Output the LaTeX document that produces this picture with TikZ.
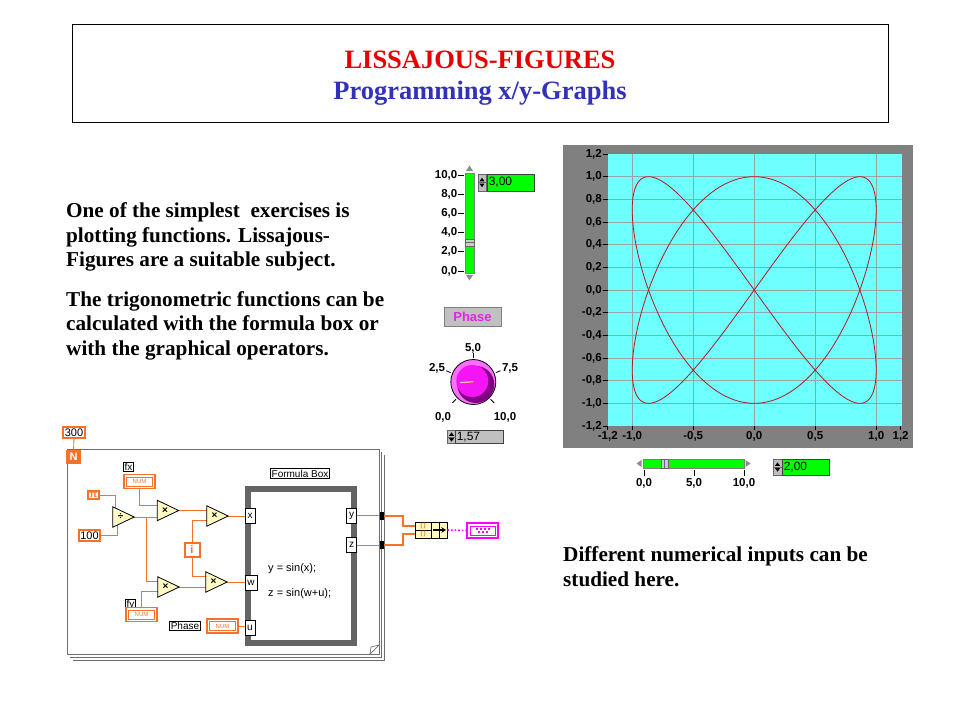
\documentclass[tikz,border=0pt]{standalone}
\usepackage{fontspec}
\setmainfont{Liberation Serif}
\setsansfont{Liberation Sans}
\usetikzlibrary{calc,arrows.meta}
\definecolor{titlered}{RGB}{230,0,0}
\definecolor{titleblue}{RGB}{50,50,185}
\definecolor{lvorange}{RGB}{245,115,40}
\definecolor{lvbeige}{RGB}{255,250,195}
\definecolor{plotcyan}{RGB}{110,255,255}
\definecolor{framegray}{RGB}{128,128,128}
\definecolor{gridgray}{RGB}{150,165,165}
\definecolor{curvered}{RGB}{175,25,35}
\definecolor{lvgreen}{RGB}{0,255,0}
\definecolor{lvmagenta}{RGB}{255,0,255}
\definecolor{knobring}{RGB}{255,110,255}
\definecolor{knobface}{RGB}{245,20,245}
\definecolor{knobdark}{RGB}{130,0,130}
\definecolor{btngray}{RGB}{192,192,192}
\definecolor{phasemag}{RGB}{225,40,225}
\definecolor{loopgray}{RGB}{110,110,110}
\definecolor{fbgray}{RGB}{100,100,100}
\begin{document}
\begin{tikzpicture}[x=1pt,y=-1pt,
  bodytext/.style={font=\fontsize{21.2}{24}\selectfont\bfseries, anchor=base west, inner sep=0},
  titletext/.style={font=\fontsize{26.5}{30}\selectfont\bfseries, anchor=base, inner sep=0},
  lvlab/.style={font=\sffamily\bfseries\fontsize{11.5}{12}\selectfont, inner sep=0},
  dispbox/.style={draw=black!75, line width=0.8pt, fill=lvgreen, minimum width=47pt, minimum height=17pt, inner sep=0},
  disptext/.style={font=\sffamily\fontsize{12}{12}\selectfont, anchor=west, inner sep=0},
  spinbox/.style={draw=black!60, line width=0.5pt, fill=black!25, minimum width=8pt, minimum height=17pt, inner sep=0},
  slidebar/.style={draw=black!50, line width=0.7pt, fill=lvgreen, inner sep=0},
  thumb/.style={draw=black!60, line width=0.6pt, fill=black!20, inner sep=0},
  panelarrow/.style={fill=black!45},
  wire/.style={lvorange, line width=0.9pt},
  bigwire/.style={lvorange, line width=2pt},
  constbox/.style={draw=lvorange, line width=1.8pt, fill=white, inner sep=1.5pt, font=\sffamily\fontsize{11}{11}\selectfont},
  numbox/.style={draw=lvorange, line width=1.6pt, fill=white, minimum width=31pt, minimum height=14pt, inner sep=0, font=\sffamily\fontsize{6}{6}\selectfont, text=lvorange,
    path picture={\draw[lvorange, line width=0.7pt] ([shift={(2.6pt,2.6pt)}]path picture bounding box.south west) rectangle ([shift={(-2.6pt,-2.6pt)}]path picture bounding box.north east);}},
  namelbl/.style={draw=black, line width=0.7pt, fill=white, inner sep=1pt, font=\sffamily\fontsize{10}{10}\selectfont},
  term/.style={draw=black, line width=0.8pt, fill=white, minimum width=10pt, minimum height=15pt, inner sep=0, font=\sffamily\fontsize{10}{10}\selectfont},
  opbox/.style={minimum width=21pt, minimum height=20pt, inner sep=0},
  opsym/.style={font=\sffamily\bfseries\fontsize{10}{10}\selectfont, inner sep=0},
  tunnel/.style={fill=black, minimum width=4pt, minimum height=8pt, inner sep=0},
  formtext/.style={font=\sffamily\fontsize{11}{11}\selectfont, anchor=base west, inner sep=0},
]
\fill[white] (0,0) rectangle (960,720);
\useasboundingbox (0,0) rectangle (960,720);

% ---------- title ----------
\node[draw=black, line width=1pt, minimum width=816pt, minimum height=98pt, inner sep=0] (tbox) at (480,73) {};
\node[titletext, text=titlered] (t1) at (480,68) {LISSAJOUS-FIGURES};
\node[titletext, text=titleblue] (t2) at (480,99) {Programming x/y-Graphs};

% ---------- body text ----------
\node[bodytext] (l1) at (66,217.5) {One of the simplest \ exercises is};
\node[bodytext] (l2) at (66,242) {plotting functions. Lissajous-};
\node[bodytext] (l3) at (66,266.5) {Figures are a suitable subject.};
\node[bodytext] (l4) at (66,306) {The trigonometric functions can be};
\node[bodytext] (l5) at (66,330.5) {calculated with the formula box or};
\node[bodytext] (l6) at (66,355) {with the graphical operators.};
\node[bodytext] (r1) at (563,561) {Different numerical inputs can be};
\node[bodytext] (r2) at (563,586) {studied here.};

% ---------- XY graph ----------
\node[fill=framegray, minimum width=350pt, minimum height=303pt, inner sep=0] (gframe) at (738,296.5) {};
\node[fill=plotcyan, minimum width=294pt, minimum height=272pt, inner sep=0] (parea) at (754.7,290) {};
\foreach \X in {-1,-0.5,0,0.5,1}
  \draw[gridgray, line width=0.7pt] ({754.2+122*\X},154) -- ({754.2+122*\X},426);
\foreach \Y in {-1,-0.8,-0.6,-0.4,-0.2,0,0.2,0.4,0.6,0.8,1}
  \draw[gridgray, line width=0.7pt] (607.7,{290-113.33*\Y}) -- (901.7,{290-113.33*\Y});
\draw[curvered, line width=0.8pt] plot[variable=\t, domain=0:180, samples=181] ({754.2+122*sin(2*\t)},{290-113.33*cos(3*\t)});
\draw[curvered, line width=0.8pt] plot[variable=\t, domain=180:360, samples=181] ({754.2+122*sin(2*\t)},{290-113.33*cos(3*\t)});
\foreach \Y/\t [count=\i] in {1.2/{1,2},1/{1,0},0.8/{0,8},0.6/{0,6},0.4/{0,4},0.2/{0,2},0/{0,0},-0.2/{-0,2},-0.4/{-0,4},-0.6/{-0,6},-0.8/{-0,8},-1/{-1,0},-1.2/{-1,2}} {
  \draw[black, line width=0.8pt] (602.5,{290-113.33*\Y}) -- (607.7,{290-113.33*\Y});
  \node[lvlab, anchor=east] (yl\i) at (602,{290-113.33*\Y}) {\t};
}
\foreach \X/\t [count=\i] in {-1.2/{-1,2},-1/{-1,0},-0.5/{-0,5},0/{0,0},0.5/{0,5},1/{1,0},1.2/{1,2}} {
  \draw[black, line width=0.8pt] ({754.2+122*\X},426) -- ({754.2+122*\X},430);
  \node[lvlab, anchor=north] (xl\i) at ({754.2+122*\X},431.5) {\t};
}

% ---------- horizontal slider ----------
\node[slidebar, minimum width=101pt, minimum height=9pt] (hsl) at (693.5,463.5) {};
\fill[panelarrow] (641.5,460) -- (641.5,467) -- (636.5,463.5) -- cycle;
\fill[panelarrow] (745.5,460) -- (745.5,467) -- (750.5,463.5) -- cycle;
\node[thumb, minimum width=7pt, minimum height=9pt] (hth) at (664.5,463.5) {};
\draw[black!60, line width=0.5pt] (hth.north) -- (hth.south);
\foreach \v/\t [count=\i] in {0/{0,0},5/{5,0},10/{10,0}} {
  \draw[black, line width=0.8pt] ({644+10*\v},470) -- ({644+10*\v},476);
  \node[lvlab] (hl\i) at ({644+10*\v},483.5) {\t};
}
\node[spinbox, minimum width=9pt, minimum height=16pt] (sp2) at (777.5,467) {};
\node[dispbox, minimum height=16pt] (d2) at (805.5,467) {};
\node[disptext] (d2t) at ([xshift=2pt]d2.west) {2,00};

% ---------- vertical slider ----------
\node[slidebar, minimum width=9pt, minimum height=100pt] (vsl) at (469.5,223) {};
\fill[panelarrow] (466,171) -- (473,171) -- (469.5,165.5) -- cycle;
\fill[panelarrow] (466,275) -- (473,275) -- (469.5,280.5) -- cycle;
\node[thumb, minimum width=9pt, minimum height=7pt] (vth) at (469.5,242.5) {};
\draw[black!60, line width=0.5pt] (vth.west) -- (vth.east);
\foreach \v/\t [count=\i] in {10/{10,0},8/{8,0},6/{6,0},4/{4,0},2/{2,0},0/{0,0}} {
  \draw[black, line width=0.8pt] (458,{271-9.6*\v}) -- (464,{271-9.6*\v});
  \node[lvlab, anchor=east] (vl\i) at (457.5,{271-9.6*\v}) {\t};
}
\node[spinbox] (sp1) at (482,182.5) {};
\node[dispbox] (d1) at (510.5,182.5) {};
\node[disptext] (d1t) at ([xshift=2pt]d1.west) {3,00};

% ---------- phase button and knob ----------
\node[draw=black!50, line width=0.8pt, fill=btngray, minimum width=57pt, minimum height=19pt, inner sep=0,
      font=\sffamily\bfseries\fontsize{13}{13}\selectfont, text=phasemag] (phbtn) at (472.5,316.5) {Phase};
\node[circle, draw=black, line width=0.8pt, fill=knobring, minimum size=45pt, inner sep=0] (knob) at (473.3,382) {};
\fill[knobdark] ($(knob.center)+(2.5,2.5)$) circle (18.5);
\fill[knobface] ($(knob.center)+(-1,-1)$) circle (16);
\draw[white, line width=1.3pt] (knob.center) -- ($(knob.center)+(-13,0.6)$);
\draw[red!85!white, line width=0.5pt] ($(knob.center)+(0,0.6)$) -- ($(knob.center)+(-12,1.1)$);
\foreach \a in {225,157.5,90,22.5,-45}
  \draw[black, line width=0.8pt] ($(knob.center)+({24.5*cos(\a)},{-24.5*sin(\a)})$) -- ($(knob.center)+({29.5*cos(\a)},{-29.5*sin(\a)})$);
\node[lvlab] (k50) at (473,348) {5,0};
\node[lvlab] (k25) at (437,368) {2,5};
\node[lvlab] (k75) at (510,368) {7,5};
\node[lvlab] (k00) at (443,417) {0,0};
\node[lvlab] (k10) at (505,417) {10,0};
\node[spinbox, minimum height=13pt] (sp3) at (451.5,437) {};
\node[dispbox, fill=btngray, minimum width=48pt, minimum height=13pt] (d3) at (479,437) {};
\node[disptext] (d3t) at ([xshift=2pt]d3.west) {1,57};

% spinner arrows
\foreach \s in {sp1,sp2,sp3} {
  \draw[black!60, line width=0.4pt] (\s.west) -- (\s.east);
  \fill[black] ($(\s.center)+(-2.5,-1.2)$) -- ++(5,0) -- ++(-2.5,-3.5) -- cycle;
  \fill[black] ($(\s.center)+(-2.5,1.2)$) -- ++(5,0) -- ++(-2.5,3.5) -- cycle;
}

% ---------- block diagram: loop frame ----------
\node[draw=loopgray, line width=0.8pt, minimum width=312pt, minimum height=205pt, inner sep=0] (loop) at (223,551.5) {};
\draw[loopgray, line width=0.7pt] (70,657) -- (381.5,657) -- (381.5,452);
\draw[loopgray, line width=0.7pt] (73,660) -- (384,660) -- (384,455);
\draw[loopgray, line width=0.7pt] (370,654) -- (371,647) -- (379,645);
\draw[loopgray, line width=0.7pt] (370,654) -- (379,645);

\node[constbox] (n300) at (74,432.5) {300};
\node[fill=lvorange, minimum width=15pt, minimum height=14pt, inner sep=0, font=\sffamily\bfseries\fontsize{11}{11}\selectfont, text=white] (nN) at (73.5,456.5) {N};
\draw[wire] (n300) -- (nN);

\node[namelbl] (fxl) at (128.5,466.5) {fx};
\node[numbox] (fxnum) at (139.5,481.5) {NUM};
\node[constbox, text=lvorange, font=\sffamily\bfseries\fontsize{10}{10}\selectfont] (pib) at (93.5,495) {π};
\node[constbox] (n100) at (89.5,535.5) {100};
\node[opbox] (dv) at (123.5,517) {};
\node[opbox] (m1) at (168,510.5) {};
\node[opbox] (m2) at (217.5,516) {};
\node[opbox] (m3) at (168.5,587) {};
\node[opbox] (m4) at (216.5,582) {};
\node[constbox, line width=2pt, text=lvorange, font=\sffamily\bfseries\fontsize{11}{11}\selectfont, minimum width=15pt, minimum height=14pt] (ib) at (192,549.5) {i};
\node[namelbl] (fyl) at (130.5,605) {fy};
\node[numbox] (fynum) at (141.5,614.5) {NUM};
\node[namelbl] (phl) at (185,626) {Phase};
\node[numbox] (phnum) at (222.5,626) {NUM};

% formula box
\node[draw=fbgray, line width=6pt, fill=white, minimum width=106pt, minimum height=154pt, inner sep=0] (fb) at (301,566) {};
\node[namelbl] (fbl) at (300,473.5) {Formula Box};
\node[term] (xt) at (250,515.5) {x};
\node[term, minimum width=12pt] (wt) at (251,582.5) {w};
\node[term] (ut) at (250,627.5) {u};
\node[term] (yt) at (351.5,515.5) {y};
\node[term] (zt) at (351.5,545) {z};
\node[formtext] (fy1) at (268,571) {y = sin(x);};
\node[formtext] (fz1) at (268,596) {z = sin(w+u);};
\node[tunnel] (t1) at (381.5,515.5) {};
\node[tunnel] (t2) at (381.5,545) {};

% bundle, build xy, graph terminal
\node[draw=black, line width=0.8pt, fill=lvbeige, minimum width=16pt, minimum height=16pt, inner sep=0] (bun) at (423,530) {};
\draw[black, line width=0.6pt] (bun.west) -- (bun.east);
\node[font=\sffamily\bfseries\fontsize{6}{6}\selectfont, text=lvorange, inner sep=0] (bun1) at ($(bun.center)+(0,-4)$) {[\,]};
\node[font=\sffamily\bfseries\fontsize{6}{6}\selectfont, text=lvorange, inner sep=0] (bun2) at ($(bun.center)+(0,4)$) {[\,]};
\node[draw=black, line width=0.8pt, fill=lvbeige, minimum width=16pt, minimum height=16pt, inner sep=0] (bld) at (439,530) {};
\draw[black, line width=0.5pt] (bld.north) -- (bld.south);
\draw[black, line width=1.8pt, -{Stealth[length=4.5pt,width=5.5pt]}] ([xshift=-6pt]bld.center) -- ([xshift=7pt]bld.center);
\node[draw=lvmagenta, line width=1.6pt, fill=white, minimum width=31pt, minimum height=15pt, inner sep=0,
  path picture={\draw[lvmagenta, line width=0.8pt] ([shift={(3pt,3pt)}]path picture bounding box.south west) rectangle ([shift={(-3pt,-3pt)}]path picture bounding box.north east);}] (xyg) at (482.5,530.5) {};
\foreach \dx/\dy in {-6/-1.5,-2/-1.5,2/-1.5,6/-1.5,-4/1.5,0/1.5,4/1.5}
  \fill[lvmagenta] ($(xyg.center)+({\dx-1},{\dy-0.8})$) rectangle ++(2.2,1.8);

% ---------- wires ----------
\coordinate (br) at (146,517);
\draw[wire] (pib.east) -| ([xshift=3pt,yshift=-2pt]dv.north west);
\draw[wire] (n100.east) -| ([xshift=5pt,yshift=3pt]dv.south west);
\draw[wire] (dv.east) -- (m1.west |- dv.east);
\draw[wire] (br) |- ([yshift=6pt]m3.west);
\draw[wire] (fxnum.south) |- ([yshift=5pt]m1.west);
\draw[wire] (m1.east) -- (m1.east -| m2.west);
\draw[wire] (ib.north) |- ([yshift=-4pt]m2.west);
\draw[wire] (ib.south) |- ([yshift=6pt]m4.west);
\draw[wire] (fynum.north) |- ([yshift=-4pt]m3.west);
\draw[wire] (m3.east) -- (m3.east -| m4.west);
\draw[wire] (m2.east) -- (m2.east -| xt.west);
\draw[wire] (m4.east) -- (m4.east -| wt.west);
\draw[wire] (phnum.east) -- (phnum.east -| ut.west);
\draw[wire] (yt.east) -- (t1.west);
\draw[wire] (zt.east) -- (t2.west);
\draw[bigwire] (t1.east) -- ++(19,0) |- ([yshift=4pt]bun.west);
\draw[bigwire] (t2.east) -- ++(19,0) |- ([yshift=-4pt]bun.west);
\draw[lvmagenta, line width=1.6pt, dotted] (bld.east) -- (xyg.west);

% operator triangles
\foreach \n in {dv,m1,m2,m3,m4}
  \draw[fill=lvbeige, line width=0.8pt] (\n.north west) -- (\n.east) -- (\n.south west) -- cycle;
\node[opsym] (dvs) at ([xshift=-3pt]dv.center) {÷};
\node[opsym] (m1s) at ([xshift=-3pt]m1.center) {×};
\node[opsym] (m2s) at ([xshift=-3pt]m2.center) {×};
\node[opsym] (m3s) at ([xshift=-3pt]m3.center) {×};
\node[opsym] (m4s) at ([xshift=-3pt]m4.center) {×};
\end{tikzpicture}
\end{document}
